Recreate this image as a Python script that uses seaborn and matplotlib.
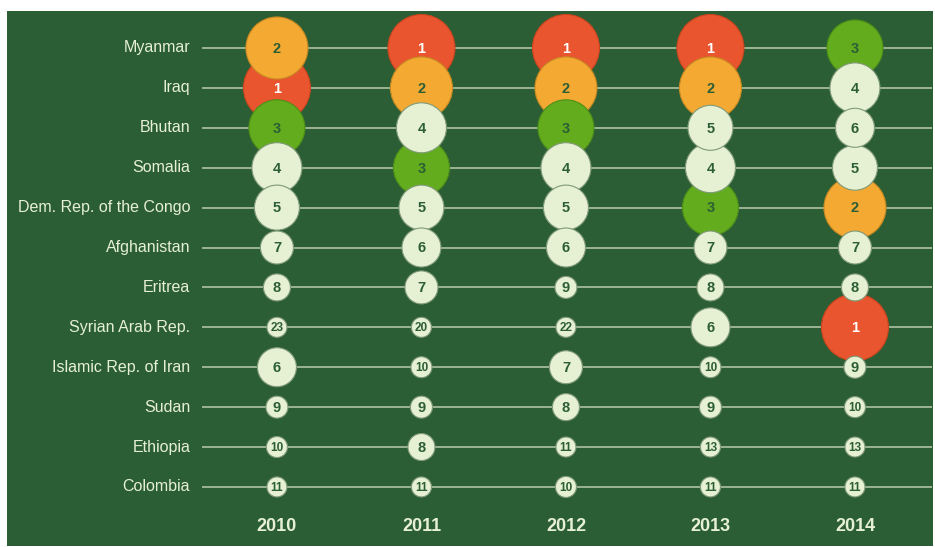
import pandas as pd
import matplotlib
matplotlib.use("Agg")
import matplotlib.pyplot as plt
import seaborn as sns

# Countries (top to bottom) and the years shown on the x axis
countries = ["Myanmar", "Iraq", "Bhutan", "Somalia", "Dem. Rep. of the Congo",
             "Afghanistan", "Eritrea", "Syrian Arab Rep.", "Islamic Rep. of Iran",
             "Sudan", "Ethiopia", "Colombia"]
years = ["2010", "2011", "2012", "2013", "2014"]

# Rank of each country per year (same order as countries)
rank_2010 = [2, 1, 3, 4, 5, 7, 8, 23, 6, 9, 10, 11]
rank_2011 = [1, 2, 4, 3, 5, 6, 7, 20, 10, 9, 8, 11]
rank_2012 = [1, 2, 3, 4, 5, 6, 9, 22, 7, 8, 11, 10]
rank_2013 = [1, 2, 5, 4, 3, 7, 8, 6, 10, 9, 13, 11]
rank_2014 = [3, 4, 6, 5, 2, 7, 8, 1, 9, 10, 13, 11]

# Colours
bg = "#2c5e35"
cream = "#e6f0d3"
line_col = "#b9cbab"
fill = {1: "#e8552e", 2: "#f4a933", 3: "#62ac1e"}
edge = {1: "#c8451f", 2: "#c88a22", 3: "#4e8f18"}
cream_edge = "#7f9a78"

# circle diameter in pixels for each rank (styling only)
diam_px = {1: 67, 2: 62, 3: 56, 4: 50, 5: 45, 6: 39, 7: 33, 8: 27,
           9: 22, 10: 21, 11: 20, 13: 20, 20: 20, 22: 20, 23: 20}

sns.set_style("white")
plt.rcParams["font.family"] = ["Liberation Sans", "DejaVu Sans"]

rows = []
for xi, (yr, ranks) in enumerate(zip(years, [rank_2010, rank_2011, rank_2012,
                                              rank_2013, rank_2014])):
    for yi, (c, r) in enumerate(zip(countries, ranks)):
        rows.append(dict(year=yr, xpos=xi, country=c, ypos=yi, rank=r))
# big circles first so that smaller ones sit on top
df = pd.DataFrame(rows).sort_values("rank", kind="stable").reset_index(drop=True)

palette = {r: fill.get(r, cream) for r in df["rank"].unique()}
sizes = {r: (diam_px[r] * 0.72) ** 2 for r in df["rank"].unique()}
edges = [edge.get(r, cream_edge) for r in df["rank"]]

fig = plt.figure(figsize=(9.35, 5.47), dpi=100)
fig.patch.set_facecolor("white")
ax = fig.add_axes([7 / 935, 1 / 547, 926 / 935, 535 / 547])
ax.set_facecolor(bg)

ax.hlines(range(len(countries)), -0.52, 4.53, color=line_col, lw=1.1, zorder=1)

sns.scatterplot(data=df, x="xpos", y="ypos", hue="rank", size="rank",
                palette=palette, sizes=sizes, legend=False, edgecolor=edges,
                linewidth=0.8, ax=ax, zorder=3)

for _, row in df.iterrows():
    r = row["rank"]
    ax.text(row["xpos"], row["ypos"] + 0.02, str(r), ha="center", va="center",
            fontsize=10.5 if r < 10 else 8.5, fontweight="bold",
            color="white" if r == 1 else bg, zorder=4)

for yi, c in enumerate(countries):
    ax.text(-0.6, yi, c, ha="right", va="center", fontsize=11.5, color=cream)

for xi, yr in enumerate(years):
    ax.text(xi, 12.0, yr, ha="center", va="center", fontsize=13,
            fontweight="bold", color=cream)

ax.set_xlim(-1.868, 4.54)
ax.set_ylim(12.48, -0.927)
ax.set_xticks([])
ax.set_yticks([])
ax.set_xlabel("")
ax.set_ylabel("")
for s in ax.spines.values():
    s.set_visible(False)

fig.savefig("out.png", dpi=100, facecolor=fig.get_facecolor())
